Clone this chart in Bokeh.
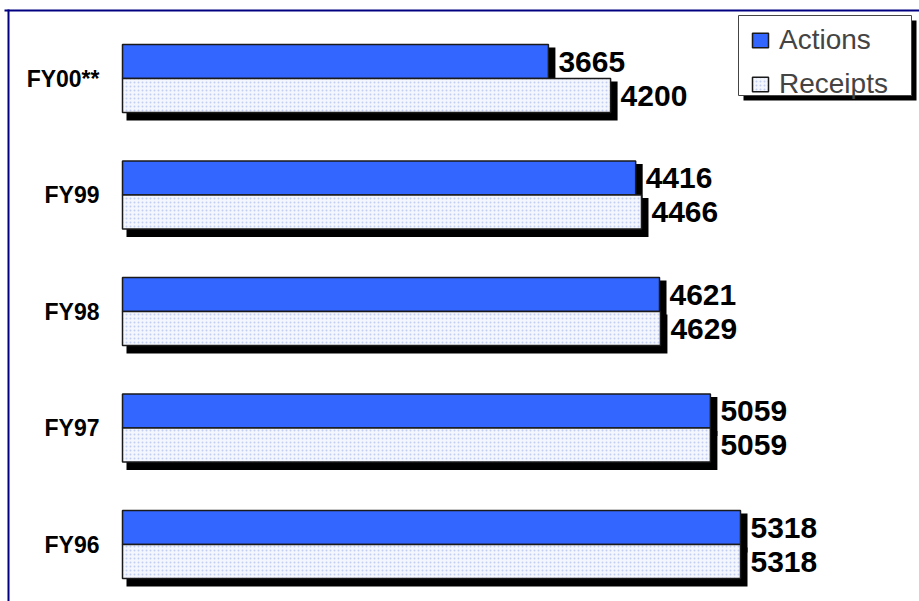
from bokeh.plotting import figure
from bokeh.models import Range1d, Legend, LegendItem, BoxAnnotation, ColumnDataSource
from bokeh.core.properties import value
from bokeh.embed import file_html
from bokeh.resources import INLINE

# ---- data ----
categories = ["FY96", "FY97", "FY98", "FY99", "FY00**"]
actions = [5318, 5059, 4621, 4416, 3665]
receipts = [5318, 5059, 4629, 4466, 4200]

# ---- layout constants (pixels) ----
W, H = 919, 601
X0PX = 122.0                 # px of value 0
SCALE = 618.0 / 5318.0       # px per unit
Y0PX = 544.0                 # px of group boundary for index 0
GAP = 116.5                  # px between groups
BAR_PX = 34.0

def x_of_px(px):
    return (px - X0PX) / SCALE

def y_of_px(py):
    return (Y0PX - py) / GAP

def dx(px):
    return px / SCALE

def dy(py):
    return py / GAP

xr = Range1d(x_of_px(0), x_of_px(W))
yr = Range1d(y_of_px(H), y_of_px(0))

p = figure(width=W, height=H, x_range=xr, y_range=yr, output_backend="svg",
           toolbar_location=None, x_axis_location=None, y_axis_location=None,
           min_border=0)
p.grid.visible = False
p.outline_line_color = None
p.background_fill_color = "white"
p.border_fill_color = "white"

idx = list(range(len(categories)))
h = dy(BAR_PX)

act = ColumnDataSource(dict(
    left=[0] * len(idx), right=actions,
    top=[i + h for i in idx], bottom=[float(i) for i in idx],
    sl=[dx(4)] * len(idx), sr=[v + dx(7) for v in actions],
    st=[i + h - dy(3) for i in idx], sb=[i - dy(8) for i in idx],
    lx=[v + dx(10) for v in actions], ly=[i + h / 2 for i in idx],
    txt=[str(v) for v in actions],
))
rec = ColumnDataSource(dict(
    left=[0] * len(idx), right=receipts,
    top=[float(i) for i in idx], bottom=[i - h for i in idx],
    sl=[dx(4)] * len(idx), sr=[v + dx(7) for v in receipts],
    st=[i - dy(3) for i in idx], sb=[i - h - dy(8) for i in idx],
    lx=[v + dx(10) for v in receipts], ly=[i - h / 2 for i in idx],
    txt=[str(v) for v in receipts],
))

# shadows
for src in (act, rec):
    p.quad(left="sl", right="sr", top="st", bottom="sb", source=src,
           fill_color="black", line_color=None)

r_act = p.quad(left="left", right="right", top="top", bottom="bottom", source=act,
               fill_color="#3366ff", line_color="#1a1a1a", line_width=1.5)
r_rec = p.quad(left="left", right="right", top="top", bottom="bottom", source=rec,
               fill_color="#f4f6fe", hatch_pattern="dot", hatch_color="#c2cef2",
               hatch_scale=4, hatch_weight=1,
               line_color="#1a1a1a", line_width=1.5)

for src in (act, rec):
    p.text(x="lx", y="ly", text="txt", source=src,
           text_font=value("Liberation Sans"), text_font_style="bold",
           text_font_size="30px", text_baseline="middle", text_align="left",
           text_color="black")

cat_src = ColumnDataSource(dict(x=[x_of_px(99)] * len(idx), y=[float(i) for i in idx],
                                txt=categories))
p.text(x="x", y="y", text="txt", source=cat_src,
       text_font=value("Liberation Sans"), text_font_style="bold",
       text_font_size="23px", text_baseline="middle", text_align="right",
       text_color="black")

# frame lines (top and left), navy
p.add_layout(BoxAnnotation(left=x_of_px(4), right=None, top=y_of_px(9), bottom=y_of_px(11),
                           fill_color="#000080", fill_alpha=1.0, line_color=None))
p.add_layout(BoxAnnotation(left=x_of_px(7), right=x_of_px(9), top=y_of_px(9), bottom=None,
                           fill_color="#000080", fill_alpha=1.0, line_color=None))

# legend box: shadow + white box with border
p.add_layout(BoxAnnotation(left=x_of_px(743), right=x_of_px(916), top=y_of_px(20), bottom=y_of_px(100),
                           fill_color="black", fill_alpha=1.0, line_color=None))
p.add_layout(BoxAnnotation(left=x_of_px(738), right=x_of_px(911), top=y_of_px(15), bottom=y_of_px(95),
                           fill_color="white", fill_alpha=1.0, line_color="#444444", line_width=1,
                           line_alpha=1.0))

LEG_LEFT, LEG_BOTTOM = 750, 100
legend = Legend(items=[LegendItem(label="Actions", renderers=[r_act]),
                       LegendItem(label="Receipts", renderers=[r_rec])],
                location=(LEG_LEFT, H - LEG_BOTTOM),
                label_text_font="Liberation Sans", label_text_font_size="28px",
                glyph_width=20, glyph_height=18, label_standoff=9,
                label_height=26, spacing=12, padding=0, margin=0,
                border_line_color=None, background_fill_alpha=0.0)
p.add_layout(legend, "center")

open("out.html", "w").write(file_html(p, INLINE))
